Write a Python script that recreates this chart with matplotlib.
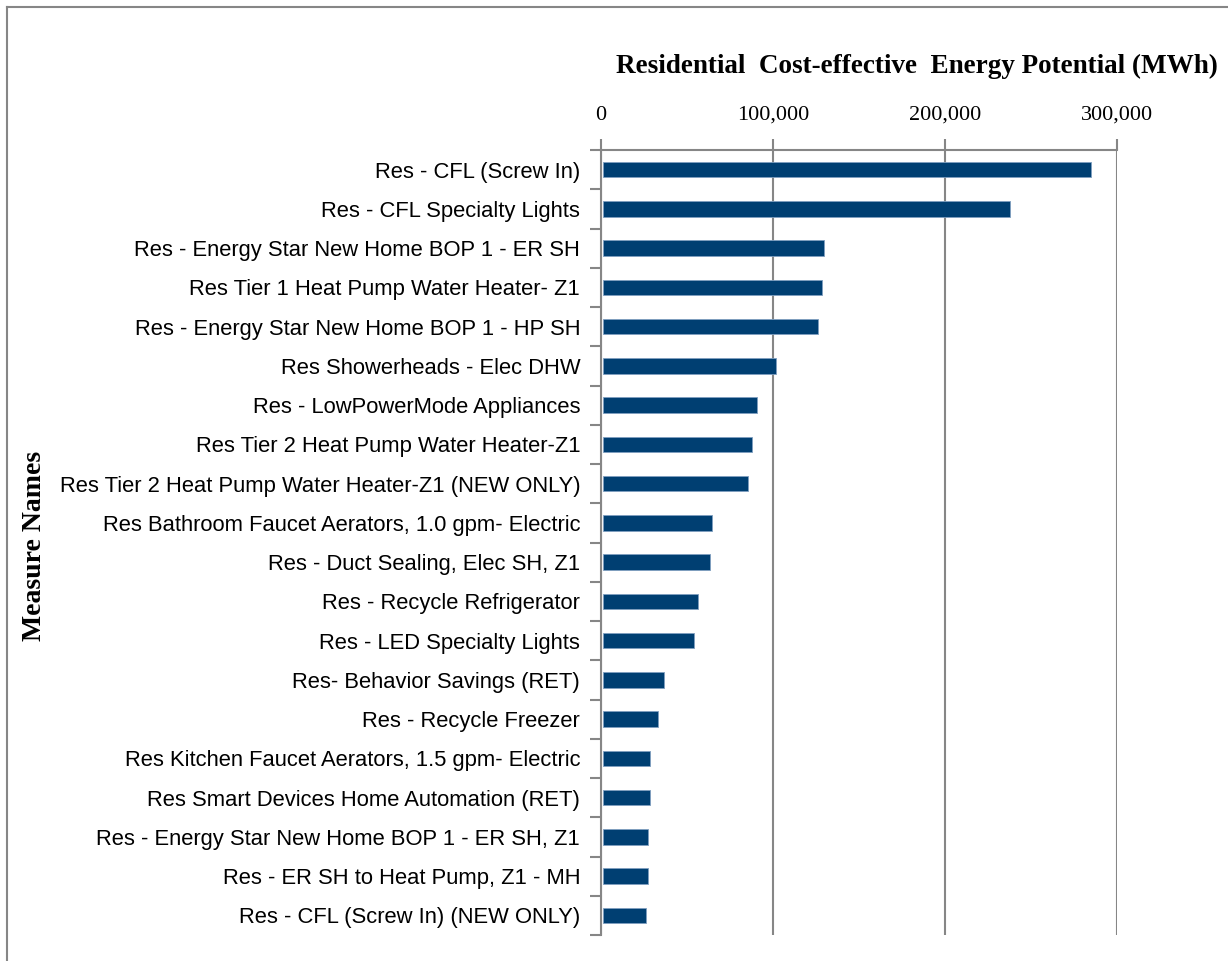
import matplotlib.pyplot as plt
from matplotlib.lines import Line2D
from matplotlib.ticker import FuncFormatter

medidas = [
    "Res - CFL (Screw In)",
    "Res - CFL Specialty Lights",
    "Res - Energy Star New Home BOP 1 - ER SH",
    "Res Tier 1 Heat Pump Water Heater- Z1",
    "Res - Energy Star New Home BOP 1 - HP SH",
    "Res Showerheads - Elec DHW",
    "Res - LowPowerMode Appliances",
    "Res Tier 2 Heat Pump Water Heater-Z1",
    "Res Tier 2 Heat Pump Water Heater-Z1 (NEW ONLY)",
    "Res Bathroom Faucet Aerators, 1.0 gpm- Electric",
    "Res - Duct Sealing, Elec SH, Z1",
    "Res - Recycle Refrigerator",
    "Res - LED Specialty Lights",
    "Res- Behavior Savings (RET)",
    "Res - Recycle Freezer",
    "Res Kitchen Faucet Aerators, 1.5 gpm- Electric",
    "Res Smart Devices Home Automation (RET)",
    "Res - Energy Star New Home BOP 1 - ER SH, Z1",
    "Res - ER SH to Heat Pump, Z1 - MH",
    "Res - CFL (Screw In) (NEW ONLY)",
]
potencial = [284000, 236500, 128500, 127300, 125000, 100500, 89500, 86600, 84300,
             63400, 62200, 55200, 52900, 35500, 32000, 27300, 27300, 26200, 26200, 25000]

fig = plt.figure(figsize=(12.28, 9.61), dpi=100)
ax = fig.add_axes([601/1228, 1-935/961, (1117-601)/1228, (935-150)/961])

pos = list(range(len(medidas)))
ax.barh(pos, potencial, height=0.4, left=1000, color="#003F72", edgecolor="#7F9FC0", linewidth=0.6, zorder=3)

ax.set_ylim(len(medidas)-0.5, -0.5)
ax.set_xlim(0, 300000)

ax.set_yticks(pos)
ax.set_yticklabels(medidas, family="Liberation Sans", fontsize=15.8)
ax.tick_params(axis="y", which="major", length=0, pad=15)
ax.set_yticks([p - 0.5 for p in pos] + [len(medidas)-0.5], minor=True)
ax.tick_params(axis="y", which="minor", length=8, width=1.5, color="#868686")

ax.xaxis.tick_top()
ax.set_xticks([0, 100000, 200000, 300000])
ax.xaxis.set_major_formatter(FuncFormatter(lambda v, p: f"{int(v):,}"))
ax.tick_params(axis="x", length=8, width=1.5, color="#868686", pad=10)
for t in ax.get_xticklabels():
    t.set_family("Liberation Serif")
    t.set_fontsize(16)

ax.grid(axis="x", color="#868686", linewidth=1.5, zorder=0)
for s in ["right", "bottom"]:
    ax.spines[s].set_visible(False)
for s in ["top", "left"]:
    ax.spines[s].set_color("#868686")
    ax.spines[s].set_linewidth(1.5)

fig.text(1218/1228, 1-66/961, "Residential  Cost-effective  Energy Potential (MWh)",
         ha="right", va="center", family="Liberation Serif", fontweight="bold", fontsize=19.5)
fig.text(35/1228, 1-546/961, "Measure Names", rotation=90, ha="center", va="center",
         family="Liberation Serif", fontweight="bold", fontsize=20)

# marco exterior
fig.add_artist(Line2D([7/1228, 7/1228], [0, 1-7/961], transform=fig.transFigure, color="#868686", lw=1.5))
fig.add_artist(Line2D([7/1228, 1], [1-7/961, 1-7/961], transform=fig.transFigure, color="#868686", lw=1.5))

fig.savefig("out.png", dpi=100)
